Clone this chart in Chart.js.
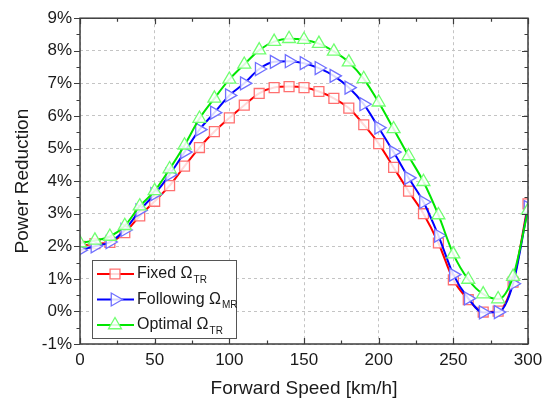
<!DOCTYPE html>
<html>
<head>
<meta charset="utf-8">
<script src="https://cdn.jsdelivr.net/npm/chart.js@4.4.0/dist/chart.umd.min.js"></script>
<style>
  html, body { margin: 0; padding: 0; background: #fff; }
  #wrap { width: 553px; height: 407px; }
</style>
</head>
<body>
<div id="wrap"><canvas id="chart"></canvas></div>
<script>
// forward speed (km/h)
const speed = [0, 10, 20, 30, 40, 50, 60, 70, 80, 90, 100, 110, 120, 130, 140, 150,
  160, 170, 180, 190, 200, 210, 220, 230, 240, 250, 260, 270, 280, 290, 300];

// power reduction (%)
const fixedTR = [2.0, 2.08, 2.12, 2.42, 2.93, 3.38, 3.86, 4.46, 5.03, 5.52, 5.94, 6.33, 6.69, 6.87, 6.9, 6.87,
  6.75, 6.54, 6.24, 5.73, 5.15, 4.42, 3.69, 3.0, 2.1, 0.97, 0.36, -0.02, 0.01, 0.9, 3.3];
const followingMR = [1.88, 2.0, 2.13, 2.5, 3.1, 3.6, 4.2, 4.89, 5.58, 6.1, 6.63, 7.0, 7.44, 7.66, 7.68, 7.62,
  7.47, 7.23, 6.87, 6.36, 5.64, 4.89, 4.1, 3.36, 2.33, 1.13, 0.4, -0.03, -0.02, 0.85, 3.2];
const optimalTR = [2.1, 2.18, 2.3, 2.63, 3.23, 3.7, 4.37, 5.1, 5.92, 6.54, 7.12, 7.58, 8.02, 8.28, 8.37, 8.34,
  8.22, 7.98, 7.65, 7.14, 6.42, 5.6, 4.77, 3.98, 2.96, 1.76, 0.98, 0.53, 0.38, 1.07, 3.1];

const xTicks = [0, 50, 100, 150, 200, 250, 300];
const yTicks = [-1, 0, 1, 2, 3, 4, 5, 6, 7, 8, 9];

const legendItems = [
  { name: 'Fixed Ω', sub: 'TR' },
  { name: 'Following Ω', sub: 'MR' },
  { name: 'Optimal Ω', sub: 'TR' }
];

const FONT = '"Liberation Sans", Arial, sans-serif';

function pts(ys) {
  return speed.map((s, i) => ({ x: s, y: ys[i] }));
}

const frame = {
  id: 'frame',
  afterDatasetsDraw(chart) {
    const ctx = chart.ctx;
    const a = chart.chartArea;
    const xs = chart.scales.x, ys = chart.scales.y;
    ctx.save();
    ctx.strokeStyle = '#3c3c3c';
    ctx.lineWidth = 1.5;
    ctx.strokeRect(a.left, a.top, a.right - a.left, a.bottom - a.top);
    ctx.lineWidth = 1.2;
    ctx.beginPath();
    // inward ticks on x (bottom and top)
    for (let v = 0; v <= 300; v += 25) {
      const px = Math.round(xs.getPixelForValue(v)) + 0.5;
      const len = v % 50 === 0 ? 6 : 3.5;
      ctx.moveTo(px, a.bottom); ctx.lineTo(px, a.bottom - len);
      ctx.moveTo(px, a.top); ctx.lineTo(px, a.top + len);
    }
    // ticks on y (left outward, right inward)
    for (let v = -1; v <= 9; v += 0.5) {
      const py = Math.round(ys.getPixelForValue(v)) + 0.5;
      const len = Math.abs(v % 1) < 1e-6 ? 6 : 3.5;
      ctx.moveTo(a.left, py); ctx.lineTo(a.left - len, py);
      ctx.moveTo(a.right, py); ctx.lineTo(a.right - len, py);
    }
    ctx.stroke();

    // legend box
    const bx = 92, by = 260, bw = 144, bh = 78;
    ctx.fillStyle = '#fff';
    ctx.fillRect(bx, by, bw, bh);
    ctx.strokeStyle = '#555';
    ctx.lineWidth = 1;
    ctx.strokeRect(bx + 0.5, by + 0.5, bw, bh);
    const dsets = chart.data.datasets;
    legendItems.forEach((it, i) => {
      const ds = dsets[i];
      const cy = 274 + i * 25.5;
      ctx.strokeStyle = ds.borderColor;
      ctx.lineWidth = 2;
      ctx.beginPath();
      ctx.moveTo(97, cy); ctx.lineTo(134, cy);
      ctx.stroke();
      ctx.fillStyle = ds.pointBackgroundColor;
      ctx.strokeStyle = ds.pointBorderColor;
      ctx.lineWidth = ds.pointBorderWidth;
      Chart.helpers.drawPoint(ctx, {
        pointStyle: ds.pointStyle, rotation: ds.pointRotation || 0,
        radius: ds.pointRadius, borderWidth: ds.pointBorderWidth
      }, 115, cy);
      ctx.fillStyle = '#1a1a1a';
      ctx.font = '16px ' + FONT;
      ctx.textBaseline = 'middle';
      ctx.textAlign = 'left';
      ctx.fillText(it.name, 137, cy);
      const w = ctx.measureText(it.name).width;
      ctx.font = '10px ' + FONT;
      ctx.fillText(it.sub, 137 + w + 1, cy + 6);
    });
    ctx.restore();
  }
};

new Chart(document.getElementById('chart'), {
  type: 'line',
  data: {
    datasets: [
      {
        label: 'Fixed ΩTR',
        data: pts(fixedTR),
        borderColor: '#ff0000',
        borderWidth: 2,
        pointStyle: 'rect',
        pointRadius: 7,
        pointBorderWidth: 1.3,
        pointBorderColor: '#ff7070',
        pointBackgroundColor: 'rgba(255,255,255,0.85)',
        cubicInterpolationMode: 'monotone',
        order: 3
      },
      {
        label: 'Following ΩMR',
        data: pts(followingMR),
        borderColor: '#0000ff',
        borderWidth: 2,
        pointStyle: 'triangle',
        pointRotation: 90,
        pointRadius: 7.5,
        pointBorderWidth: 1.3,
        pointBorderColor: '#7070ff',
        pointBackgroundColor: 'rgba(255,255,255,0.85)',
        cubicInterpolationMode: 'monotone',
        order: 2
      },
      {
        label: 'Optimal ΩTR',
        data: pts(optimalTR),
        borderColor: '#00e600',
        borderWidth: 2,
        pointStyle: 'triangle',
        pointRadius: 7.5,
        pointBorderWidth: 1.3,
        pointBorderColor: '#70ff70',
        pointBackgroundColor: 'rgba(255,255,255,0.85)',
        cubicInterpolationMode: 'monotone',
        order: 1
      }
    ]
  },
  options: {
    responsive: true,
    maintainAspectRatio: false,
    animation: false,
    layout: {
      padding: { top: 11, right: 25, left: 0, bottom: 0 }
    },
    plugins: {
      legend: { display: false },
      tooltip: { enabled: false }
    },
    scales: {
      x: {
        type: 'linear',
        min: 0,
        max: 300,
        afterFit: (s) => { s.height = 63; },
        afterBuildTicks: (s) => { s.ticks = xTicks.map(v => ({ value: v })); },
        ticks: {
          padding: 6,
          color: '#1a1a1a',
          font: { family: FONT, size: 17 },
          maxRotation: 0
        },
        grid: { color: '#c4c4c4', lineWidth: 1, drawTicks: false },
        border: { display: false, dash: [3, 3] },
        title: {
          display: true,
          text: 'Forward Speed [km/h]',
          color: '#1a1a1a',
          font: { family: FONT, size: 19 },
          padding: { top: 8, bottom: 7 }
        }
      },
      y: {
        min: -1,
        max: 9,
        afterFit: (s) => { s.width = 80; },
        afterBuildTicks: (s) => { s.ticks = yTicks.map(v => ({ value: v })); },
        ticks: {
          padding: 8,
          color: '#1a1a1a',
          font: { family: FONT, size: 17 },
          callback: (v) => v + '%'
        },
        grid: { color: '#c4c4c4', lineWidth: 1, drawTicks: false },
        border: { display: false, dash: [3, 3] },
        title: {
          display: true,
          text: 'Power Reduction',
          color: '#1a1a1a',
          font: { family: FONT, size: 19 },
          padding: { top: 11, bottom: 4 }
        }
      }
    }
  },
  plugins: [frame]
});
</script>
</body>
</html>
